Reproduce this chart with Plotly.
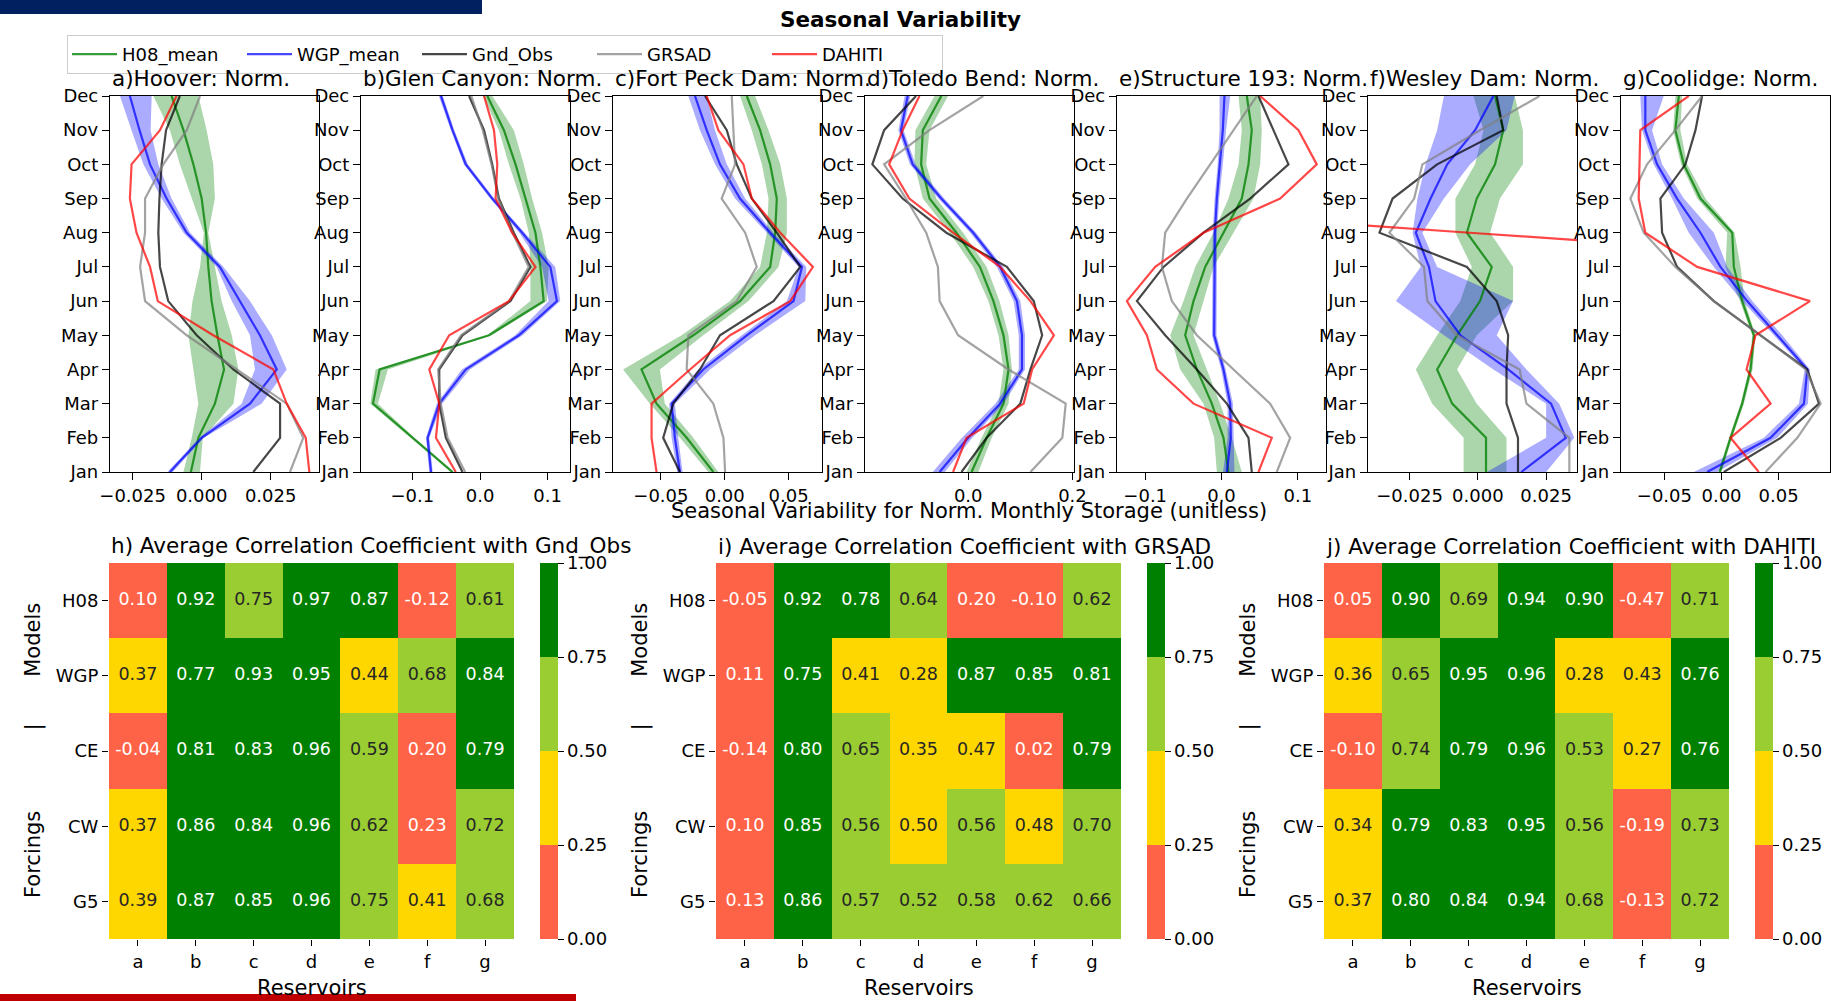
import plotly.graph_objects as go

W, H = 1831, 1001
FONT = "DejaVu Sans"

MONTHS = ["Jan", "Feb", "Mar", "Apr", "May", "Jun", "Jul", "Aug", "Sep", "Oct", "Nov", "Dec"]
PANEL_TITLES = ["a)Hoover: Norm.", "b)Glen Canyon: Norm.", "c)Fort Peck Dam: Norm.",
                "d)Toledo Bend: Norm.", "e)Structure 193: Norm.", "f)Wesley Dam: Norm.",
                "g)Coolidge: Norm."]
SERIES_NAMES = ["H08_mean", "WGP_mean", "Gnd_Obs", "GRSAD", "DAHITI"]

# ---------------- seasonal variability (values Jan..Dec) ----------------
# a) Hoover
A_H08 = [-0.0039, -0.0012, 0.0048, 0.0081, 0.0057, 0.0036, 0.0024, 0.0016, 0.0000, -0.0030, -0.0066, -0.0109]
A_H08_LO = [-0.0066, -0.0036, -0.0012, -0.0030, -0.0048, -0.0033, -0.0006, 0.0008, -0.0036, -0.0079, -0.0115, -0.0175]
A_H08_HI = [-0.0006, 0.0004, 0.0115, 0.0133, 0.0109, 0.0072, 0.0048, 0.0024, 0.0048, 0.0042, 0.0018, -0.0012]
A_WGP = [-0.0115, 0.0000, 0.0175, 0.0272, 0.0211, 0.0139, 0.0066, -0.0054, -0.0127, -0.0187, -0.0225, -0.0260]
A_WGP_LO = [-0.0124, -0.0008, 0.0145, 0.0193, 0.0175, 0.0109, 0.0054, -0.0066, -0.0145, -0.0211, -0.0254, -0.0296]
A_WGP_HI = [-0.0105, 0.0008, 0.0217, 0.0308, 0.0254, 0.0175, 0.0079, -0.0042, -0.0109, -0.0157, -0.0185, -0.0181]
A_GND = [0.0187, 0.0284, 0.0284, 0.0115, -0.0018, -0.0121, -0.0151, -0.0157, -0.0153, -0.0145, -0.0129, -0.0079]
A_GRSAD = [0.0320, 0.0368, 0.0308, 0.0127, -0.0054, -0.0205, -0.0223, -0.0205, -0.0205, -0.0139, -0.0054, -0.0006]
A_DAHITI = [0.0390, 0.0377, 0.0308, 0.0260, 0.0042, -0.0159, -0.0187, -0.0236, -0.0260, -0.0254, -0.0151, -0.0091]

# b) Glen Canyon
B_H08 = [-0.0407, -0.0995, -0.1583, -0.1485, 0.0132, 0.0941, 0.0892, 0.0819, 0.0672, 0.0525, 0.0353, 0.0108]
B_H08_LO = [-0.0431, -0.1020, -0.1623, -0.1544, 0.0108, 0.0745, 0.0745, 0.0721, 0.0598, 0.0426, 0.0279, 0.0044]
B_H08_HI = [-0.0382, -0.0971, -0.1510, -0.1363, 0.0172, 0.0990, 0.1015, 0.0917, 0.0770, 0.0647, 0.0500, 0.0181]
B_WGP = [-0.0725, -0.0775, -0.0603, -0.0211, 0.0574, 0.1137, 0.1039, 0.0623, 0.0181, -0.0211, -0.0407, -0.0578]
B_WGP_LO = [-0.0750, -0.0800, -0.0640, -0.0270, 0.0520, 0.1015, 0.0917, 0.0580, 0.0150, -0.0240, -0.0430, -0.0610]
B_WGP_HI = [-0.0700, -0.0750, -0.0560, -0.0150, 0.0630, 0.1186, 0.1113, 0.0660, 0.0210, -0.0180, -0.0380, -0.0550]
B_GND = [-0.0260, -0.0505, -0.0603, -0.0603, -0.0260, 0.0451, 0.0745, 0.0500, 0.0279, 0.0181, 0.0059, -0.0162]
B_GRSAD = [-0.0220, -0.0480, -0.0580, -0.0620, -0.0280, 0.0430, 0.0720, 0.0480, 0.0270, 0.0170, 0.0040, -0.0130]
B_DAHITI = [-0.0358, -0.0652, -0.0603, -0.0750, -0.0456, 0.0426, 0.0819, 0.0475, 0.0230, 0.0255, 0.0206, 0.0059]

# c) Fort Peck Dam
C_H08 = [-0.0089, -0.0298, -0.0534, -0.0652, -0.0246, 0.0120, 0.0356, 0.0395, 0.0408, 0.0356, 0.0277, 0.0173]
C_H08_LO = [-0.0128, -0.0351, -0.0586, -0.0796, -0.0338, 0.0042, 0.0277, 0.0330, 0.0343, 0.0291, 0.0212, 0.0120]
C_H08_HI = [-0.0050, -0.0246, -0.0469, -0.0508, -0.0168, 0.0186, 0.0421, 0.0487, 0.0487, 0.0435, 0.0343, 0.0238]
C_WGP = [-0.0351, -0.0390, -0.0416, -0.0168, 0.0173, 0.0539, 0.0605, 0.0356, 0.0120, -0.0037, -0.0141, -0.0233]
C_WGP_LO = [-0.0372, -0.0416, -0.0435, -0.0207, 0.0134, 0.0487, 0.0579, 0.0330, 0.0081, -0.0076, -0.0194, -0.0285]
C_WGP_HI = [-0.0330, -0.0364, -0.0390, -0.0115, 0.0238, 0.0631, 0.0639, 0.0382, 0.0160, 0.0016, -0.0076, -0.0141]
C_GND = [-0.0351, -0.0482, -0.0403, -0.0194, -0.0037, 0.0382, 0.0592, 0.0408, 0.0212, 0.0094, 0.0016, -0.0154]
C_GRSAD = [0.0003, -0.0010, -0.0089, -0.0298, -0.0285, 0.0094, 0.0251, 0.0160, -0.0024, 0.0081, 0.0068, 0.0055]
C_DAHITI = [-0.0534, -0.0573, -0.0573, -0.0272, 0.0042, 0.0513, 0.0691, 0.0435, 0.0212, 0.0147, -0.0050, -0.0141]

# d) Toledo Bend
D_H08 = [0.0065, 0.0355, 0.0677, 0.0774, 0.0677, 0.0484, 0.0226, -0.0226, -0.0742, -0.0903, -0.0871, -0.0516]
D_H08_LO = [-0.0032, 0.0258, 0.0581, 0.0677, 0.0581, 0.0387, 0.0097, -0.0355, -0.0871, -0.1032, -0.1013, -0.0645]
D_H08_HI = [0.0194, 0.0452, 0.0774, 0.0839, 0.0774, 0.0600, 0.0355, -0.0097, -0.0613, -0.0806, -0.0742, -0.0387]
D_WGP = [-0.0548, 0.0000, 0.0613, 0.1032, 0.1032, 0.0935, 0.0613, 0.0097, -0.0516, -0.1065, -0.1290, -0.1161]
D_WGP_LO = [-0.0680, -0.0120, 0.0520, 0.0970, 0.0970, 0.0870, 0.0550, 0.0040, -0.0570, -0.1120, -0.1340, -0.1220]
D_WGP_HI = [-0.0450, 0.0080, 0.0680, 0.1090, 0.1090, 0.1000, 0.0670, 0.0150, -0.0460, -0.1010, -0.1240, -0.1110]
D_GND = [-0.0129, 0.0355, 0.1000, 0.1194, 0.1419, 0.1258, 0.0742, -0.0419, -0.1258, -0.1839, -0.1613, -0.1000]
D_GRSAD = [0.1194, 0.1806, 0.1871, 0.0774, -0.0194, -0.0548, -0.0581, -0.0806, -0.1194, -0.1613, -0.0742, 0.0290]
D_DAHITI = [-0.0290, -0.0032, 0.1065, 0.1226, 0.1645, 0.1194, 0.0613, -0.0290, -0.1129, -0.1516, -0.1258, -0.0935]

# e) Structure 193
E_H08 = [0.0092, 0.0026, -0.0127, -0.0323, -0.0476, -0.0367, -0.0214, 0.0026, 0.0266, 0.0354, 0.0397, 0.0332]
E_H08_LO = [-0.0061, -0.0096, -0.0236, -0.0541, -0.0672, -0.0498, -0.0345, -0.0105, 0.0092, 0.0223, 0.0266, 0.0223]
E_H08_HI = [0.0266, 0.0135, -0.0017, -0.0192, -0.0367, -0.0236, -0.0105, 0.0157, 0.0419, 0.0507, 0.0528, 0.0507]
E_WGP = [0.0070, 0.0122, 0.0114, 0.0026, -0.0096, -0.0092, -0.0092, -0.0087, -0.0061, -0.0017, 0.0017, 0.0039]
E_WGP_LO = [0.0020, 0.0080, 0.0080, -0.0005, -0.0125, -0.0120, -0.0120, -0.0115, -0.0090, -0.0050, -0.0026, -0.0026]
E_WGP_HI = [0.0170, 0.0160, 0.0150, 0.0055, -0.0065, -0.0062, -0.0062, -0.0058, -0.0030, 0.0017, 0.0060, 0.0114]
E_GND = [0.0397, 0.0354, 0.0070, -0.0323, -0.0738, -0.1109, -0.0760, -0.0236, 0.0376, 0.0878, 0.0681, 0.0485]
E_GRSAD = [0.0725, 0.0900, 0.0638, 0.0157, -0.0323, -0.0651, -0.0782, -0.0738, -0.0454, -0.0148, 0.0157, 0.0463]
E_DAHITI = [0.0485, 0.0659, -0.0367, -0.0847, -0.0978, -0.1240, -0.0869, -0.0236, 0.0769, 0.1249, 0.1009, 0.0507]

# f) Wesley Dam
F_H08 = [0.0030, 0.0030, -0.0094, -0.0149, -0.0076, 0.0008, 0.0051, -0.0040, -0.0004, 0.0063, 0.0093, 0.0063]
F_H08_LO = [-0.0052, -0.0052, -0.0167, -0.0227, -0.0149, -0.0064, -0.0022, -0.0082, -0.0082, -0.0010, 0.0021, -0.0016]
F_H08_HI = [0.0105, 0.0105, -0.0004, -0.0076, -0.0004, 0.0129, 0.0129, 0.0045, 0.0081, 0.0165, 0.0165, 0.0135]
F_WGP = [0.0159, 0.0322, 0.0268, 0.0111, -0.0064, -0.0155, -0.0179, -0.0227, -0.0173, -0.0112, -0.0010, 0.0057]
F_WGP_LO = [0.0033, 0.0250, 0.0250, 0.0057, -0.0124, -0.0300, -0.0209, -0.0239, -0.0221, -0.0191, -0.0149, -0.0124]
F_WGP_HI = [0.0250, 0.0353, 0.0298, 0.0178, 0.0069, 0.0129, -0.0149, -0.0203, -0.0124, -0.0028, 0.0105, 0.0135]
F_GND = [0.0147, 0.0147, 0.0105, 0.0105, 0.0111, 0.0069, -0.0040, -0.0360, -0.0312, -0.0149, 0.0093, 0.0069]
F_GRSAD = [0.0335, 0.0335, 0.0178, 0.0153, -0.0076, -0.0185, -0.0197, -0.0324, -0.0233, -0.0203, 0.0008, 0.0226]
F_DAHITI = [None, None, None, None, None, None, 0.1800, -0.0030, -0.1800, None, None, None]

# g) Coolidge
G_H08 = [-0.0015, 0.0079, 0.0181, 0.0254, 0.0284, 0.0181, 0.0108, 0.0094, -0.0184, -0.0330, -0.0404, -0.0374]
G_H08_LO = [-0.0028, 0.0066, 0.0167, 0.0240, 0.0269, 0.0161, 0.0035, 0.0050, -0.0213, -0.0354, -0.0424, -0.0404]
G_H08_HI = [0.0000, 0.0093, 0.0196, 0.0272, 0.0298, 0.0202, 0.0167, 0.0114, -0.0140, -0.0301, -0.0360, -0.0345]
G_WGP = [-0.0126, 0.0430, 0.0722, 0.0751, 0.0488, 0.0225, -0.0009, -0.0184, -0.0389, -0.0564, -0.0667, -0.0667]
G_WGP_LO = [-0.0243, 0.0371, 0.0678, 0.0728, 0.0459, 0.0181, -0.0067, -0.0287, -0.0433, -0.0594, -0.0696, -0.0711]
G_WGP_HI = [-0.0038, 0.0488, 0.0757, 0.0775, 0.0532, 0.0269, 0.0050, -0.0067, -0.0330, -0.0520, -0.0608, -0.0506]
G_GND = [0.0020, 0.0518, 0.0854, 0.0751, 0.0342, -0.0067, -0.0389, -0.0520, -0.0535, -0.0316, -0.0228, -0.0170]
G_GRSAD = [0.0386, 0.0664, 0.0868, 0.0737, 0.0342, -0.0067, -0.0404, -0.0681, -0.0798, -0.0652, -0.0404, -0.0170]
G_DAHITI = [0.0327, 0.0079, 0.0430, 0.0219, 0.0298, 0.0775, -0.0213, -0.0667, -0.0725, -0.0716, -0.0711, -0.0287]

# ---------------- correlation heatmaps ----------------
RESERVOIRS = ["a", "b", "c", "d", "e", "f", "g"]
ROWS = ["H08", "WGP", "CE", "CW", "G5"]
HEAT_TITLES = ["h) Average Correlation Coefficient with Gnd_Obs",
               "i) Average Correlation Coefficient with GRSAD",
               "j) Average Correlation Coefficient with DAHITI"]
CORR_GND = [
    [0.10, 0.92, 0.749, 0.97, 0.87, -0.12, 0.61],
    [0.37, 0.77, 0.93, 0.95, 0.44, 0.68, 0.84],
    [-0.04, 0.81, 0.83, 0.96, 0.59, 0.20, 0.79],
    [0.37, 0.86, 0.84, 0.96, 0.62, 0.23, 0.72],
    [0.39, 0.87, 0.85, 0.96, 0.749, 0.41, 0.68],
]
CORR_GRSAD = [
    [-0.05, 0.92, 0.78, 0.64, 0.20, -0.10, 0.62],
    [0.11, 0.751, 0.41, 0.28, 0.87, 0.85, 0.81],
    [-0.14, 0.80, 0.65, 0.35, 0.47, 0.02, 0.79],
    [0.10, 0.85, 0.56, 0.499, 0.56, 0.48, 0.70],
    [0.13, 0.86, 0.57, 0.52, 0.58, 0.62, 0.66],
]
CORR_DAHITI = [
    [0.05, 0.90, 0.69, 0.94, 0.90, -0.47, 0.71],
    [0.36, 0.65, 0.95, 0.96, 0.28, 0.43, 0.76],
    [-0.10, 0.74, 0.79, 0.96, 0.53, 0.27, 0.76],
    [0.34, 0.79, 0.83, 0.95, 0.56, -0.19, 0.73],
    [0.37, 0.80, 0.84, 0.94, 0.68, -0.13, 0.72],
]

# ---------------- assemble ----------------
PANELS = [
    (A_H08, A_H08_LO, A_H08_HI, A_WGP, A_WGP_LO, A_WGP_HI, A_GND, A_GRSAD, A_DAHITI),
    (B_H08, B_H08_LO, B_H08_HI, B_WGP, B_WGP_LO, B_WGP_HI, B_GND, B_GRSAD, B_DAHITI),
    (C_H08, C_H08_LO, C_H08_HI, C_WGP, C_WGP_LO, C_WGP_HI, C_GND, C_GRSAD, C_DAHITI),
    (D_H08, D_H08_LO, D_H08_HI, D_WGP, D_WGP_LO, D_WGP_HI, D_GND, D_GRSAD, D_DAHITI),
    (E_H08, E_H08_LO, E_H08_HI, E_WGP, E_WGP_LO, E_WGP_HI, E_GND, E_GRSAD, E_DAHITI),
    (F_H08, F_H08_LO, F_H08_HI, F_WGP, F_WGP_LO, F_WGP_HI, F_GND, F_GRSAD, F_DAHITI),
    (G_H08, G_H08_LO, G_H08_HI, G_WGP, G_WGP_LO, G_WGP_HI, G_GND, G_GRSAD, G_DAHITI),
]
HEATS = [CORR_GND, CORR_GRSAD, CORR_DAHITI]

# axis settings (style)
X_RANGES = [[-0.0332, 0.0425], [-0.176, 0.133], [-0.0875, 0.0762], [-0.198, 0.203],
            [-0.137, 0.137], [-0.0402, 0.0363], [-0.088, 0.095]]
X_DTICK = [0.025, 0.1, 0.05, 0.2, 0.1, 0.025, 0.05]
X_FMT = [".3f", ".1f", ".2f", ".1f", ".1f", ".3f", ".2f"]

LINE_COLORS = ["rgba(0,128,0,0.78)", "rgba(0,0,255,0.72)", "rgba(0,0,0,0.72)",
               "rgba(128,128,128,0.72)", "rgba(255,0,0,0.72)"]
BAND_COLORS = ["rgba(0,128,0,0.33)", "rgba(0,0,255,0.33)"]


def fx(p):
    return p / W


def fy(p):
    return 1 - p / H


fig = go.Figure()
layout = {}
annotations = []

PANEL_LEFT = [110, 361, 613, 865, 1117, 1368, 1621]
PANEL_W = 209
TOP, BOT = 96, 472
TICKFONT = dict(size=18, color="black", family=FONT)

for i, data in enumerate(PANELS):
    h08, h08lo, h08hi, wgp, wgplo, wgphi, gnd, grsad, dahiti = data
    xa, ya = f"x{i+1}", f"y{i+1}"
    for lo, hi, col in [(h08lo, h08hi, BAND_COLORS[0]), (wgplo, wgphi, BAND_COLORS[1])]:
        fig.add_trace(go.Scatter(x=list(lo) + list(hi)[::-1], y=MONTHS + MONTHS[::-1],
                                 fill="toself", fillcolor=col, line=dict(width=0),
                                 mode="lines", showlegend=False, hoverinfo="skip",
                                 xaxis=xa, yaxis=ya))
    for k, (vals, name) in enumerate(zip([h08, wgp, gnd, grsad, dahiti], SERIES_NAMES)):
        fig.add_trace(go.Scatter(x=vals, y=MONTHS, mode="lines", name=name,
                                 line=dict(color=LINE_COLORS[k], width=2.2),
                                 legendgroup=name, showlegend=(i == 0),
                                 xaxis=xa, yaxis=ya))
    L = PANEL_LEFT[i]
    axis_common = dict(showline=True, mirror=True, linecolor="black", linewidth=1.3,
                       ticks="outside", ticklen=7, tickwidth=1.3, tickcolor="black",
                       showgrid=False, zeroline=False, tickfont=TICKFONT)
    layout["xaxis" if i == 0 else f"xaxis{i+1}"] = dict(
        domain=[fx(L), fx(L + PANEL_W)], range=X_RANGES[i], tick0=0, dtick=X_DTICK[i],
        tickformat=X_FMT[i], anchor=ya, **axis_common)
    layout["yaxis" if i == 0 else f"yaxis{i+1}"] = dict(
        domain=[fy(BOT), fy(TOP)], type="category", categoryorder="array",
        categoryarray=MONTHS, range=[0, 11], anchor=xa, **axis_common)
    annotations.append(dict(text=PANEL_TITLES[i], x=fx(L), y=fy(78), xref="paper", yref="paper",
                            xanchor="left", yanchor="middle", showarrow=False,
                            font=dict(size=21.5, color="black", family=FONT)))

# heatmaps
HEAT_LEFT = [109, 716, 1324]
HEAT_W = 405
HTOP, HBOT = 563, 939
COLORSCALE = [[0.0, "#ff6347"], [0.25, "#ff6347"], [0.25, "#ffd700"], [0.5, "#ffd700"],
              [0.5, "#9acd32"], [0.75, "#9acd32"], [0.75, "#008000"], [1.0, "#008000"]]

for j, z in enumerate(HEATS):
    n = 8 + j
    xa, ya = f"x{n}", f"y{n}"
    L = HEAT_LEFT[j]
    fig.add_trace(go.Heatmap(
        z=z, x=RESERVOIRS, y=ROWS, colorscale=COLORSCALE, zmin=0, zmax=1,
        xaxis=xa, yaxis=ya, hoverinfo="skip",
        colorbar=dict(x=fx(L + HEAT_W + 26), xanchor="left", xpad=0, ypad=0,
                      y=fy((HTOP + HBOT) / 2), yanchor="middle",
                      lenmode="pixels", len=HBOT - HTOP, thickness=18,
                      outlinewidth=0, tick0=0, dtick=0.25, tickformat=".2f",
                      ticks="outside", ticklen=6, tickwidth=1.3, tickcolor="black",
                      tickfont=TICKFONT)))
    tx, ty, tt, tc = [], [], [], []
    for r, row in enumerate(z):
        for c, v in enumerate(row):
            tx.append(RESERVOIRS[c])
            ty.append(ROWS[r])
            tt.append(f"{v:.2f}")
            tc.append("white" if (v < 0.25 or v >= 0.75) else "#262626")
    fig.add_trace(go.Scatter(x=tx, y=ty, text=tt, mode="text", showlegend=False,
                             hoverinfo="skip", textfont=dict(size=17.5, color=tc, family=FONT),
                             xaxis=xa, yaxis=ya))
    hax = dict(showline=False, ticks="outside", ticklen=6, tickwidth=1.3, tickcolor="black",
               showgrid=False, zeroline=False, tickfont=TICKFONT)
    layout[f"xaxis{n}"] = dict(domain=[fx(L), fx(L + HEAT_W)], anchor=ya, **hax)
    layout[f"yaxis{n}"] = dict(domain=[fy(HBOT), fy(HTOP)], anchor=xa, autorange="reversed", **hax)
    annotations.append(dict(text=HEAT_TITLES[j], x=fx(L), y=fy(546), xref="paper", yref="paper",
                            xanchor="left", yanchor="middle", showarrow=False,
                            font=dict(size=21.5, color="black", family=FONT)))
    annotations.append(dict(text="Reservoirs", x=fx(L + HEAT_W / 2), y=fy(988), xref="paper",
                            yref="paper", xanchor="center", yanchor="middle", showarrow=False,
                            font=dict(size=21, color="black", family=FONT)))
    ylab = "Forcings" + "\u00a0" * 12 + "|" + "\u00a0" * 7 + "Models"
    annotations.append(dict(text=ylab, x=fx(L - 76), y=fy((HTOP + HBOT) / 2), xref="paper",
                            yref="paper", xanchor="center", yanchor="middle", showarrow=False,
                            textangle=-90, font=dict(size=21, color="black", family=FONT)))

annotations.append(dict(text="<b>Seasonal Variability</b>", x=fx(900), y=fy(20), xref="paper",
                        yref="paper", xanchor="center", yanchor="middle", showarrow=False,
                        font=dict(size=21.5, color="black", family=FONT)))
annotations.append(dict(text="Seasonal Variability for Norm. Monthly Storage (unitless)",
                        x=fx(969), y=fy(511), xref="paper", yref="paper", xanchor="center",
                        yanchor="middle", showarrow=False,
                        font=dict(size=21, color="black", family=FONT)))

shapes = [
    dict(type="rect", xref="paper", yref="paper", x0=0, x1=fx(482), y0=fy(14), y1=1,
         fillcolor="#002060", line=dict(width=0), layer="above"),
    dict(type="rect", xref="paper", yref="paper", x0=0, x1=fx(576), y0=0, y1=fy(994),
         fillcolor="#c00000", line=dict(width=0), layer="above"),
]

fig.update_layout(
    width=W, height=H, margin=dict(l=0, r=0, t=0, b=0, autoexpand=False),
    paper_bgcolor="white", plot_bgcolor="white",
    font=dict(family=FONT, size=17, color="black"),
    showlegend=True,
    legend=dict(orientation="h", x=fx(67), y=fy(35), xanchor="left", yanchor="top",
                bgcolor="white", bordercolor="#cccccc", borderwidth=1,
                itemwidth=45, entrywidth=115, entrywidthmode="pixels",
                font=dict(size=18, color="black", family=FONT)),
    annotations=annotations, shapes=shapes,
    **layout,
)

fig.write_html("out.html")
